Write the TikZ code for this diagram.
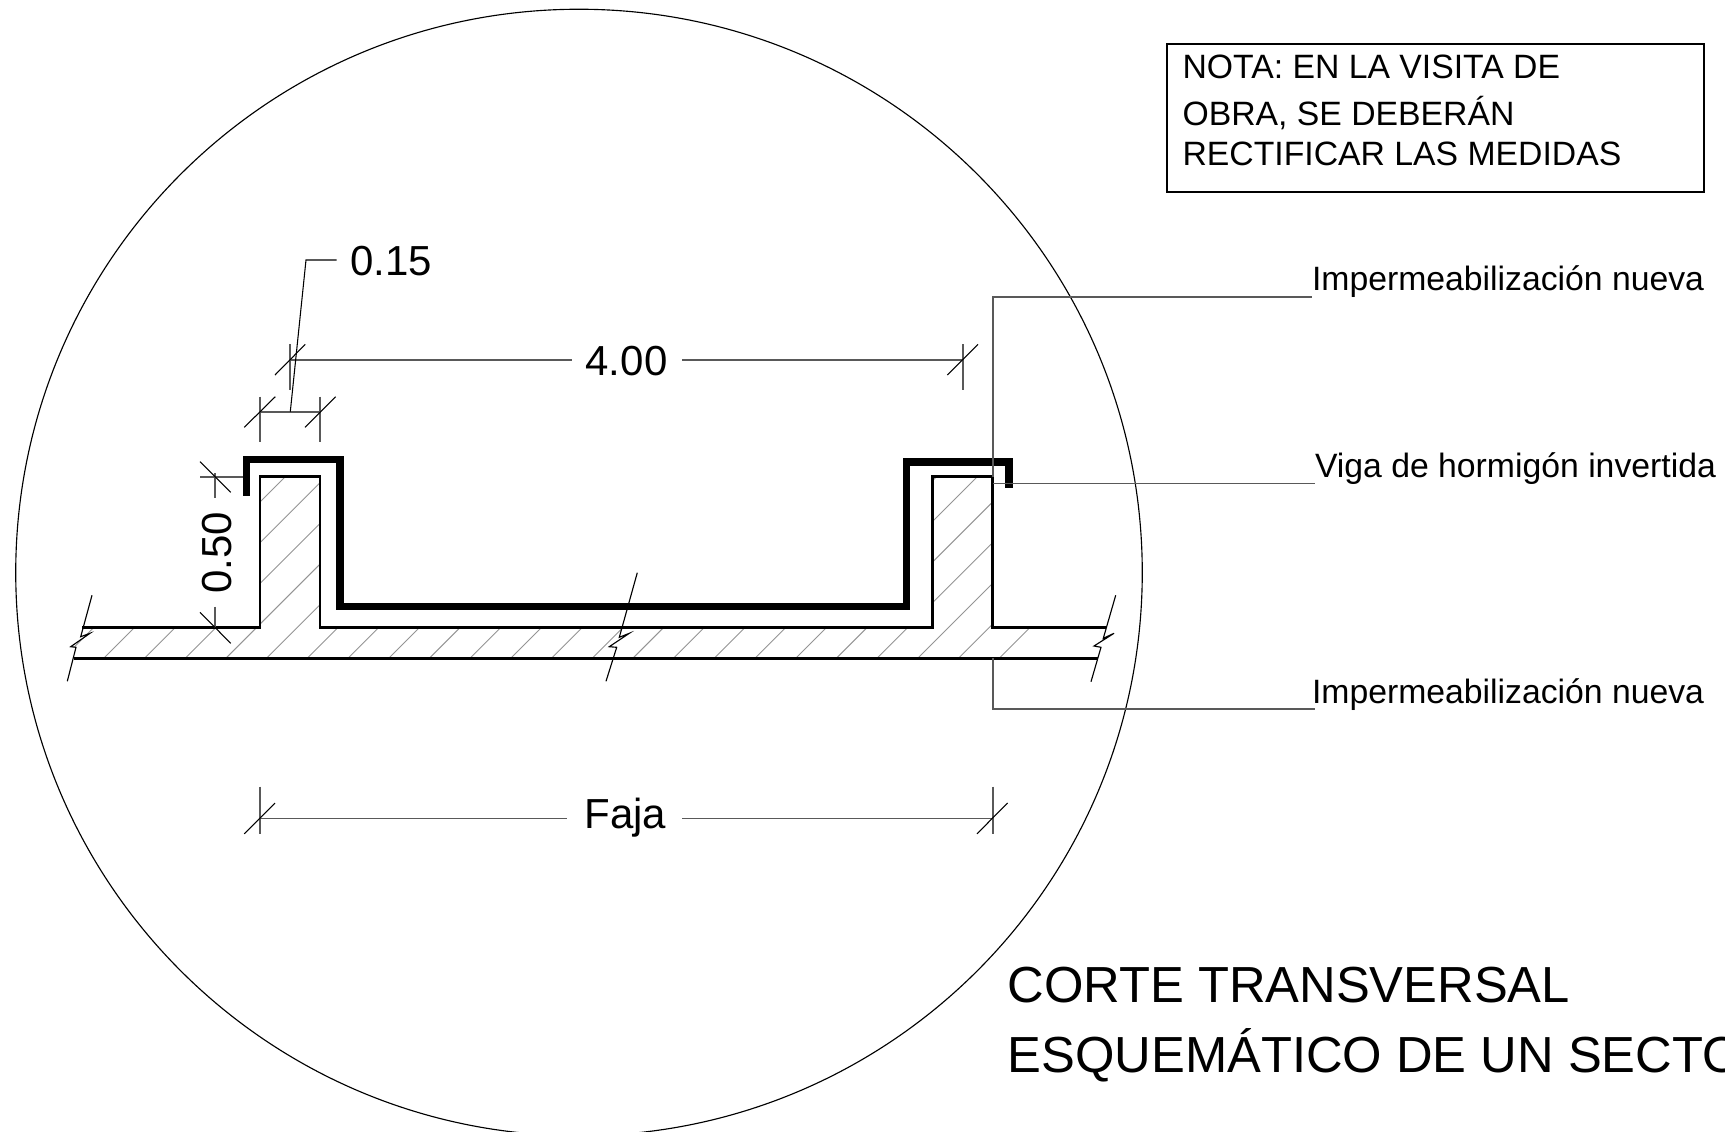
\documentclass[tikz,border=0pt]{standalone}
\usepackage{fontspec}
\setmainfont{Liberation Sans}
\newcommand{\pxfont}[1]{\fontsize{\the\dimexpr #1pt*3/4\relax}{\the\dimexpr #1pt*9/10\relax}\selectfont}
\tikzset{
  x=0.75pt,y=-0.75pt,
  thinblk/.style={draw=black,line width=0.8pt},
  dimline/.style={draw=black!65,line width=1.3pt},
  hatchline/.style={draw=black!42,line width=0.7pt},
  wallline/.style={draw=black,line width=2pt,line join=miter},
  membrane/.style={draw=black,line width=5.5pt,line join=miter},
  breakline/.style={draw=black,line width=0.85pt,line join=miter},
  txt/.style={inner sep=0pt,outer sep=0pt,anchor=base west,text=black},
  dimtxt/.style={inner sep=0pt,outer sep=0pt,anchor=base,text=black,font=\pxfont{42}},
  notetxt/.style={txt,font=\pxfont{33.75}},
  leadtxt/.style={txt,font=\pxfont{33.75}},
  titletxt/.style={txt,font=\pxfont{50.7}},
}
\begin{document}
\begin{tikzpicture}
\useasboundingbox (0,0) rectangle (1725,1132);
\clip (0,0) rectangle (1725,1132);
% detail circle
\node[circle,draw=black,line width=0.85pt,minimum size=844.9pt,inner sep=0pt] (detail) at (579,572.5) {};
% hatching
\begin{scope}
  \clip (82,627.7) -- (260,627.7) -- (260,476.7) -- (320,476.7) -- (320,627.7) -- (932.3,627.7) -- (932.3,476.7) -- (992.7,476.7) -- (992.7,627.7) -- (1106,627.7) -- (1103,638.3) -- (1114,633.3) -- (1094,646) -- (1101,647.3) -- (1098,658.3) -- (74,658.3) -- (76,647.3) -- (70.7,646.7) -- (90,633.3) -- (80.7,636.7) -- cycle;
  \foreach \k in {-8,...,22}{
    \pgfmathsetmacro{\s}{762+40.7*\k}
    \draw[hatchline] (\s-700,700) -- (\s-440,440);
  }
\end{scope}
% beam and slab
\draw[wallline] (82,627.7) -- (260,627.7) -- (260,476.7) -- (320,476.7) -- (320,627.7) -- (932.3,627.7) -- (932.3,476.7) -- (992.7,476.7) -- (992.7,627.7) -- (1106,627.7);
\draw[wallline] (74,658.3) -- (1098,658.3);
% waterproofing
\draw[membrane] (246.7,495.7) -- (246.7,459.7) -- (340,459.7) -- (340,606.7) -- (906.3,606.7) -- (906.3,462) -- (1009,462) -- (1009,488.3);
% break lines
\draw[breakline] (92,595.3) -- (80.7,636.7) -- (90,633.3) -- (70.7,646.7) -- (76,647.3) -- (67.3,681.3);
\draw[breakline] (637.3,572.7) -- (619.3,637.3) -- (629.3,633.3) -- (609.3,646.7) -- (616.7,647.3) -- (606,681.3);
\draw[breakline] (1115.7,595.3) -- (1103.3,638.3) -- (1114,633.3) -- (1094,646) -- (1101,647.3) -- (1091,681.7);
% labels
\node[dimtxt] (d400) at (626.5,375) {4.00};
\node[dimtxt] (dfaja) at (625.5,828) {Faja};
\node[txt,font=\pxfont{42}] (d015) at (350,275) {0.15};
\node[dimtxt,rotate=90] (d050) at (231.7,553) {0.50};
\node[leadtxt] (imp1) at (1312,290) {Impermeabilización nueva};
\node[leadtxt] (viga) at (1315,477.5) {Viga de hormigón invertida};
\node[leadtxt] (imp2) at (1312,703) {Impermeabilización nueva};
\node[titletxt] (title1) at (1007.5,1002) {CORTE TRANSVERSAL};
\node[titletxt] (title2) at (1007.5,1072) {ESQUEMÁTICO DE UN SECTOR};
\node[draw=black,line width=1.7pt,minimum width=402.75pt,minimum height=111pt,inner sep=0pt,anchor=north west] (notebox) at (1166,42.5) {};
\node[notetxt] (n1) at (1182.5,78.3) {NOTA: EN LA VISITA DE};
\node[notetxt] (n2) at (1182.5,125) {OBRA, SE DEBERÁN};
\node[notetxt] (n3) at (1182.5,165.5) {RECTIFICAR LAS MEDIDAS};
% dimension 4.00
\coordinate (a1) at (290,360); \coordinate (a2) at (962.7,360);
\draw[dimline] (a1) -- (572,360) (682,360) -- (a2);
\draw[dimline] (290,344) -- (290,390) (962.7,344) -- (962.7,390);
\draw[thinblk] (275,375) -- (305.3,344.3) (947.3,375) -- (978,344.3);
% dimension 0.15
\coordinate (b1) at (260,411.7); \coordinate (b2) at (320,411.7);
\draw[dimline] (b1) -- (b2);
\draw[dimline] (260,396.7) -- (260,441.7) (320,396.7) -- (320,441.7);
\draw[thinblk] (244.3,427.3) -- (275.3,396.7) (305,427.3) -- (335.7,396.7);
\coordinate (l1) at (290.3,411.7); \coordinate (l2) at (306,260); \coordinate (l3) at (336.7,260);
\draw[thinblk] (l1) -- (l2) -- (l3);
% dimension 0.50
\draw[dimline] (200,476.7) -- (243,476.7);
\draw[dimline] (215.3,473) -- (215.3,497.5) (215.3,606.7) -- (215.3,628);
\draw[thinblk] (200,461.7) -- (230.7,492.3) (200,612.3) -- (230.7,643.3);
% dimension Faja
\coordinate (c1) at (260,818.4); \coordinate (c2) at (993,818.4);
\draw[dimline] (c1) -- (566.5,818.4) (682,818.4) -- (c2);
\draw[dimline] (260,786.5) -- (260,833.8) (993,786.5) -- (993,833.8);
\draw[thinblk] (244.2,833.8) -- (275,803) (977,833.8) -- (1007.6,803);
% leaders
\coordinate (p1) at (992.7,476.7); \coordinate (p2) at (992.7,297); \coordinate (p3) at (1312,297);
\draw[dimline] (p1) -- (p2) -- (p3);
\coordinate (q1) at (992.7,483.5); \coordinate (q2) at (1315,483.5);
\draw[dimline] (q1) -- (q2);
\coordinate (r1) at (992.7,658.3); \coordinate (r2) at (992.7,709.3); \coordinate (r3) at (1315,709.3);
\draw[dimline] (r1) -- (r2) -- (r3);
\end{tikzpicture}
\end{document}
